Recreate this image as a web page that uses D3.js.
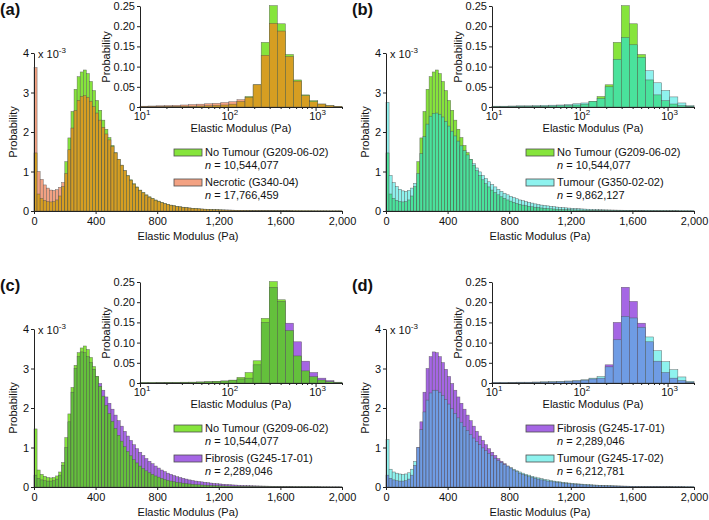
<!DOCTYPE html>
<html><head><meta charset="utf-8">
<script src="https://cdn.jsdelivr.net/npm/d3@7/dist/d3.min.js"></script>
<style>
body{margin:0;background:#fff}
text{font-family:"Liberation Sans",Arial,sans-serif;fill:#111}
</style>
</head><body>
<svg id="chart" width="709" height="520"></svg>
<script>
// ---------- DATA ----------
// main histograms: 20 Pa bins from 0 to 2000 Pa, probability x 10^-3
const binStarts = d3.range(0, 2000, 20);
const noTumour = [
1.47,0.43,0.32,0.27,0.24,0.23,0.24,0.28,0.38,0.62,
1.25,1.85,2.52,3.08,3.40,3.52,3.57,3.48,3.28,3.05,
2.80,2.55,2.30,2.07,1.86,1.66,1.48,1.31,1.16,1.02,
0.90,0.79,0.69,0.61,0.53,0.47,0.41,0.36,0.32,0.28,
0.25,0.22,0.19,0.17,0.15,0.135,0.12,0.107,0.096,0.086,
0.077,0.069,0.062,0.056,0.051,0.046,0.042,0.038,0.035,0.032,
0.029,0.027,0.025,0.023,0.021,0.019,0.018,0.017,0.016,0.015,
0.014,0.013,0.012,0.011,0.011,0.010,0.010,0.009,0.009,0.008,
0.008,0.007,0.007,0.007,0.006,0.006,0.006,0.005,0.005,0.005,
0.005,0.004,0.004,0.004,0.004,0.004,0.003,0.003,0.003,0.003];
const necrotic = [
3.63,1.00,0.80,0.66,0.58,0.53,0.52,0.54,0.60,0.72,
0.95,1.55,2.10,2.55,2.80,2.90,2.92,2.88,2.78,2.64,
2.48,2.30,2.12,1.95,1.80,1.63,1.47,1.31,1.16,1.02,
0.89,0.78,0.68,0.60,0.52,0.46,0.40,0.35,0.31,0.27,
0.24,0.21,0.185,0.165,0.145,0.13,0.115,0.103,0.093,0.083,
0.075,0.067,0.060,0.054,0.049,0.045,0.041,0.037,0.034,0.031,
0.028,0.026,0.024,0.022,0.020,0.019,0.018,0.016,0.015,0.014,
0.013,0.012,0.012,0.011,0.010,0.010,0.009,0.009,0.008,0.008,
0.007,0.007,0.007,0.006,0.006,0.006,0.005,0.005,0.005,0.005,
0.004,0.004,0.004,0.004,0.004,0.003,0.003,0.003,0.003,0.003];
const tumour = [
2.75,0.90,0.72,0.62,0.55,0.51,0.50,0.52,0.58,0.70,
0.95,1.45,1.88,2.20,2.40,2.47,2.48,2.45,2.38,2.27,
2.15,2.02,1.90,1.77,1.65,1.53,1.42,1.31,1.20,1.09,
0.99,0.90,0.82,0.74,0.67,0.61,0.55,0.50,0.45,0.41,
0.37,0.34,0.31,0.28,0.26,0.24,0.22,0.20,0.18,0.165,
0.15,0.14,0.13,0.12,0.11,0.10,0.094,0.087,0.080,0.074,
0.068,0.063,0.058,0.053,0.049,0.045,0.042,0.039,0.036,0.033,
0.031,0.029,0.027,0.025,0.023,0.021,0.020,0.019,0.018,0.017,
0.016,0.015,0.014,0.013,0.012,0.011,0.011,0.010,0.009,0.009,
0.008,0.008,0.007,0.007,0.007,0.006,0.006,0.006,0.005,0.005];
const fibrosis = [
0.30,0.22,0.18,0.16,0.15,0.15,0.16,0.20,0.30,0.55,
1.00,1.65,2.40,3.00,3.30,3.42,3.40,3.30,3.15,2.98,
2.80,2.62,2.45,2.28,2.12,1.97,1.82,1.68,1.54,1.41,
1.29,1.18,1.07,0.97,0.88,0.80,0.72,0.65,0.59,0.53,
0.48,0.43,0.39,0.35,0.32,0.29,0.26,0.24,0.22,0.20,
0.18,0.165,0.15,0.14,0.13,0.12,0.11,0.10,0.092,0.084,
0.077,0.070,0.064,0.058,0.053,0.049,0.045,0.041,0.038,0.035,
0.032,0.030,0.028,0.026,0.024,0.022,0.020,0.019,0.018,0.016,
0.015,0.014,0.013,0.012,0.011,0.010,0.010,0.009,0.009,0.008,
0.008,0.007,0.007,0.006,0.006,0.006,0.005,0.005,0.005,0.004];
const tumour2 = [
1.20,0.45,0.38,0.35,0.33,0.32,0.33,0.36,0.45,0.65,
1.00,1.45,1.90,2.20,2.38,2.45,2.45,2.40,2.32,2.22,
2.10,1.98,1.86,1.75,1.64,1.53,1.43,1.33,1.24,1.15,
1.07,0.99,0.92,0.85,0.79,0.73,0.67,0.62,0.57,0.53,
0.49,0.45,0.41,0.38,0.35,0.32,0.30,0.27,0.25,0.23,
0.21,0.195,0.18,0.165,0.15,0.14,0.13,0.12,0.11,0.10,
0.093,0.086,0.079,0.073,0.067,0.062,0.057,0.052,0.048,0.044,
0.040,0.037,0.034,0.031,0.029,0.027,0.025,0.023,0.021,0.019,
0.018,0.017,0.016,0.015,0.014,0.013,0.012,0.011,0.010,0.010,
0.009,0.009,0.008,0.008,0.007,0.007,0.007,0.006,0.006,0.006];

// inset histograms: 25 log-spaced bins from 10 to 2000 Pa, probability
const noTumourLog = [0.001,0.001,0.001,0.0015,0.0015,0.002,0.002,0.0025,0.003,0.004,0.005,0.007,0.014,0.026,0.055,0.16,0.251,0.206,0.13,0.067,0.03,0.0157,0.0074,0.0033,0.0017];
const necroticLog = [0.002,0.0025,0.003,0.0035,0.004,0.005,0.006,0.007,0.008,0.009,0.011,0.013,0.018,0.024,0.055,0.128,0.207,0.188,0.125,0.064,0.028,0.013,0.0072,0.0032,0.0016];
const tumourLog = [0.002,0.002,0.0025,0.003,0.003,0.0035,0.004,0.0045,0.005,0.006,0.008,0.010,0.014,0.021,0.05,0.118,0.172,0.154,0.123,0.09,0.06,0.041,0.025,0.01,0.0033];
const fibrosisLog = [0.0005,0.0005,0.0007,0.001,0.0012,0.0015,0.002,0.0025,0.003,0.004,0.005,0.007,0.010,0.012,0.045,0.15,0.237,0.202,0.148,0.102,0.054,0.026,0.012,0.006,0.002];
const tumour2Log = [0.001,0.001,0.0015,0.002,0.002,0.0025,0.003,0.0035,0.004,0.005,0.006,0.008,0.012,0.016,0.04,0.107,0.165,0.161,0.138,0.114,0.08,0.053,0.033,0.015,0.004];

const mainXTicks = [0,400,800,1200,1600,2000];
const mainYTicks = [0,1,2,3,4];
const insetXTicks = [10,100,1000];
const insetYTicks = [0,0.05,0.10,0.15,0.20,0.25];
const panelLabels = ["(a)","(b)","(c)","(d)"];
const legendNames = [
  ["No Tumour (G209-06-02)","Necrotic (G340-04)"],
  ["No Tumour (G209-06-02)","Tumour (G350-02-02)"],
  ["No Tumour (G209-06-02)","Fibrosis (G245-17-01)"],
  ["Fibrosis (G245-17-01)","Tumour (G245-17-02)"]];
const legendCounts = [
  ["10,544,077","17,766,459"],
  ["10,544,077","9,862,127"],
  ["10,544,077","2,289,046"],
  ["2,289,046","6,212,781"]];

// ---------- STYLE ----------
const GREEN="#86e43c", SALMON="#f3a283", CYAN="#8ef2ee", PURPLE="#a566e4";
const OV_A="#d69e22", OV_B="#4ae29c", OV_C="#64c03c", OV_D="#6f9ce4";
const panels = [
 {ox:0,  oy:0,   A:noTumour, B:necrotic, AL:noTumourLog, BL:necroticLog, cA:GREEN, cB:SALMON, cO:OV_A},
 {ox:352,oy:0,   A:noTumour, B:tumour,   AL:noTumourLog, BL:tumourLog,   cA:GREEN, cB:CYAN,   cO:OV_B},
 {ox:0,  oy:276, A:noTumour, B:fibrosis, AL:noTumourLog, BL:fibrosisLog, cA:GREEN, cB:PURPLE, cO:OV_C},
 {ox:352,oy:276, A:fibrosis, B:tumour2,  AL:fibrosisLog, BL:tumour2Log,  cA:PURPLE,cB:CYAN,   cO:OV_D}
];
const STROKE="#4d4d4d", AXIS="#222";
const svg = d3.select("#chart");
const FS = 11;

function styleAxis(g){
  g.selectAll("path.domain").attr("stroke",AXIS).attr("stroke-width",1);
  g.selectAll(".tick line").attr("stroke",AXIS);
  g.selectAll(".tick text").attr("font-size",FS).attr("font-family","Liberation Sans, Arial, sans-serif").attr("fill","#111");
}

function drawBars(g, bins, x, y, p){
  const grp = g.append("g");
  bins.forEach(b=>{
    const hi = Math.max(b.a,b.b), lo = Math.min(b.a,b.b);
    const x0 = x(b.x0), w = x(b.x1)-x(b.x0);
    grp.append("rect").attr("x",x0).attr("width",w)
      .attr("y",y(hi)).attr("height",y(0)-y(hi))
      .attr("fill", b.a>=b.b ? p.cA : p.cB)
      .attr("stroke",STROKE).attr("stroke-width",0.5).attr("stroke-opacity",0.8);
    grp.append("rect").attr("x",x0).attr("width",w)
      .attr("y",y(lo)).attr("height",y(0)-y(lo))
      .attr("fill", p.cO)
      .attr("stroke",STROKE).attr("stroke-width",0.5).attr("stroke-opacity",0.8);
  });
}

panels.forEach((p,pi)=>{
  const g = svg.append("g");
  const {ox,oy} = p;
  // ---- main ----
  const x = d3.scaleLinear().domain([0,2000]).range([ox+34, ox+342]);
  const y = d3.scaleLinear().domain([0,4]).range([oy+211, oy+53]);
  const bins = binStarts.map((s,i)=>({x0:s, x1:s+20, a:p.A[i], b:p.B[i]}));
  drawBars(g, bins, x, y, p);
  const xa = g.append("g").attr("transform",`translate(0,${oy+211})`)
    .call(d3.axisBottom(x).tickValues(mainXTicks).tickFormat(d3.format(",")).tickSize(3).tickSizeOuter(0).tickPadding(3));
  styleAxis(xa);
  const ya = g.append("g").attr("transform",`translate(${ox+34},0)`)
    .call(d3.axisLeft(y).tickValues(mainYTicks).tickFormat(d3.format("d")).tickSize(3).tickSizeOuter(0).tickPadding(2));
  styleAxis(ya);
  const sc = g.append("text").attr("x",ox+38).attr("y",oy+58).attr("font-size",FS).text("x 10");
  sc.append("tspan").attr("dy",-5).attr("font-size",8).text("-3");
  g.append("text").attr("x",ox+188).attr("y",oy+240).attr("text-anchor","middle").attr("font-size",FS).text("Elastic Modulus (Pa)");
  g.append("text").attr("transform",`translate(${ox+17},${oy+132}) rotate(-90)`).attr("text-anchor","middle").attr("font-size",FS).text("Probability");
  g.append("text").attr("x",ox).attr("y",oy+15).attr("font-size",16.5).attr("font-weight","bold").text(panelLabels[pi]);

  // ---- inset ----
  const xl = d3.scaleLog().domain([10,2000]).range([ox+140, ox+342]);
  const yl = d3.scaleLinear().domain([0,0.25]).range([oy+107, oy+6]);
  const nb = p.AL.length;
  const lo = Math.log10(10), hi = Math.log10(2000);
  const edges = d3.range(nb+1).map(k=>Math.pow(10, lo + k*(hi-lo)/nb));
  const lbins = p.AL.map((v,k)=>({x0:edges[k], x1:edges[k+1], a:v, b:p.BL[k]}));
  drawBars(g, lbins, xl, yl, p);
  const minor = [];
  [10,100,1000].forEach(d=>{ for(let m=2;m<=9;m++){ const v=d*m; if(v<=2000) minor.push(v);} });
  const xla = g.append("g").attr("transform",`translate(0,${oy+107})`)
    .call(d3.axisBottom(xl).tickValues(minor).tickFormat("").tickSize(2).tickSizeOuter(0));
  styleAxis(xla);
  const xlb = g.append("g").attr("transform",`translate(0,${oy+107})`)
    .call(d3.axisBottom(xl).tickValues(insetXTicks).tickFormat("").tickSize(4).tickSizeOuter(0));
  styleAxis(xlb);
  insetXTicks.forEach(v=>{
    const t = g.append("text").attr("x",xl(v)+2).attr("y",oy+120).attr("text-anchor","middle").attr("font-size",FS).text("10");
    t.append("tspan").attr("dy",-5).attr("font-size",8).text(String(Math.round(Math.log10(v))));
  });
  const yla = g.append("g").attr("transform",`translate(${ox+140},0)`)
    .call(d3.axisLeft(yl).tickValues(insetYTicks).tickFormat(d=>d===0?"0":d3.format(".2f")(d)).tickSize(3).tickSizeOuter(0).tickPadding(2));
  styleAxis(yla);
  g.append("text").attr("x",ox+241).attr("y",oy+132).attr("text-anchor","middle").attr("font-size",FS).text("Elastic Modulus (Pa)");
  g.append("text").attr("transform",`translate(${ox+110},${oy+57}) rotate(-90)`).attr("text-anchor","middle").attr("font-size",FS).text("Probability");

  // ---- legend ----
  const cols = [p.cA, p.cB];
  [0,1].forEach(j=>{
    const yy = oy + 149 + j*30;
    g.append("rect").attr("x",ox+174).attr("y",yy).attr("width",28).attr("height",7)
      .attr("fill",cols[j]).attr("stroke",STROKE).attr("stroke-width",0.8);
    g.append("text").attr("x",ox+205).attr("y",yy+7).attr("font-size",FS).text(legendNames[pi][j]);
    const t = g.append("text").attr("x",ox+205).attr("y",yy+20).attr("font-size",FS);
    t.append("tspan").attr("font-style","italic").text("n");
    t.append("tspan").text(" = " + legendCounts[pi][j]);
  });
});
</script>
</body></html>
